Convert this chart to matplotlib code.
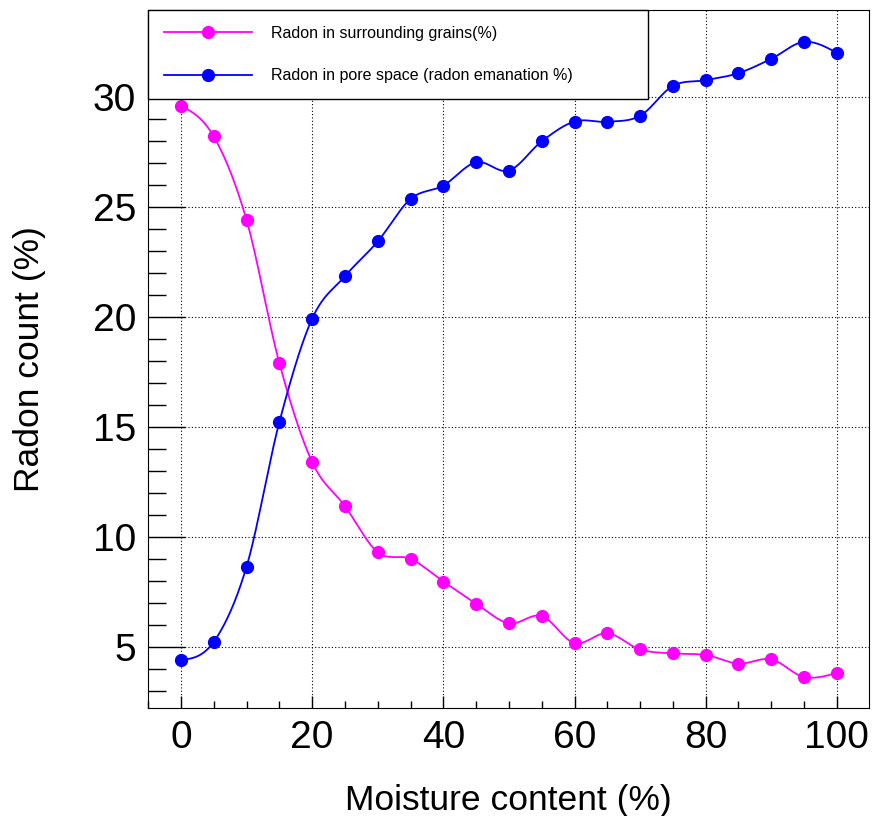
import numpy as np
import matplotlib
matplotlib.use('Agg')
import matplotlib.pyplot as plt
from matplotlib.ticker import MultipleLocator

# Vlaga (%) in delež radona (%)
moisture = [0, 5, 10, 15, 20, 25, 30, 35, 40, 45, 50,
            55, 60, 65, 70, 75, 80, 85, 90, 95, 100]
grains = [29.6, 28.2, 24.4, 17.9, 13.4, 11.4, 9.3, 9.0, 7.97, 6.96, 6.07,
          6.4, 5.17, 5.62, 4.88, 4.7, 4.63, 4.24, 4.43, 3.63, 3.82]
pore = [4.4, 5.23, 8.65, 15.22, 19.92, 21.85, 23.43, 25.36, 25.97, 27.03, 26.65,
        27.98, 28.88, 28.87, 29.14, 30.5, 30.76, 31.08, 31.73, 32.5, 32.0]

label_grains = 'Radon in surrounding grains(%)'
label_pore = 'Radon in pore space (radon emanation %)'

PT = 0.72  # px -> pt pri dpi 100


def smooth(x, y, n=40):
    # Hermitov zlepek (Catmull-Rom) za gladko krivuljo kot opcija "C" v ROOT
    x = np.asarray(x, float)
    y = np.asarray(y, float)
    m = np.zeros(len(x))
    m[1:-1] = (y[2:] - y[:-2]) / (x[2:] - x[:-2])
    m[0] = (3 * (y[1] - y[0]) / (x[1] - x[0]) - m[1]) / 2
    m[-1] = (3 * (y[-1] - y[-2]) / (x[-1] - x[-2]) - m[-2]) / 2
    xs_all, ys_all = [], []
    for i in range(len(x) - 1):
        h = x[i + 1] - x[i]
        t = np.linspace(0, 1, n)
        h00 = 2 * t**3 - 3 * t**2 + 1
        h10 = t**3 - 2 * t**2 + t
        h01 = -2 * t**3 + 3 * t**2
        h11 = t**3 - t**2
        xs_all.append(x[i] + t * h)
        ys_all.append(h00 * y[i] + h10 * h * m[i] + h01 * y[i + 1] + h11 * h * m[i + 1])
    return np.concatenate(xs_all), np.concatenate(ys_all)


plt.rcParams['font.family'] = ['Liberation Sans', 'DejaVu Sans']

fig = plt.figure(figsize=(8.74, 8.16), dpi=100)
ax = fig.add_axes([148 / 874, 1 - 708 / 816, 721 / 874, 698 / 816])

for y, color, label in [(grains, '#ff00ff', label_grains), (pore, '#0000ff', label_pore)]:
    xs, ys = smooth(moisture, y)
    ax.plot(xs, ys, color=color, lw=1.3, zorder=3)
    ax.plot(moisture, y, 'o', color=color, ms=8.5, zorder=4)
    ax.plot([], [], '-o', color=color, lw=1.3, ms=8.5, label=label)

ax.set_xlim(-5.03, 104.9)
ax.set_ylim(2.22, 33.95)
ax.xaxis.set_major_locator(MultipleLocator(20))
ax.xaxis.set_minor_locator(MultipleLocator(5))
ax.yaxis.set_major_locator(MultipleLocator(5))
ax.yaxis.set_minor_locator(MultipleLocator(1))
ax.tick_params(axis='x', which='major', direction='in', length=12 * PT, width=1, pad=9, labelsize=28)
ax.tick_params(axis='x', which='minor', direction='in', length=7 * PT, width=1)
ax.tick_params(axis='y', which='major', direction='in', length=37 * PT, width=1, pad=12 * PT, labelsize=28)
ax.tick_params(axis='y', which='minor', direction='in', length=18 * PT, width=1)
ax.grid(True, which='major', linestyle=(0, (1, 2)), color='black', lw=0.8)

ax.set_xlabel('Moisture content (%)', fontsize=25.5, va='center')
ax.xaxis.set_label_coords(0.5, -0.132)
ax.set_ylabel('Radon count (%)', fontsize=25.5, va='center')
ax.yaxis.set_label_coords(-0.1645, 0.5)

leg = ax.legend(loc='upper left', bbox_to_anchor=(0, 0.875, 500 / 721, 0.125), mode='expand',
                fontsize=11.5, frameon=True, fancybox=False, edgecolor='black', framealpha=1,
                borderaxespad=0, borderpad=1.0, labelspacing=1.7, handlelength=5.5,
                handletextpad=1.2)
leg.get_frame().set_linewidth(1)

fig.savefig('out.png', dpi=100)
